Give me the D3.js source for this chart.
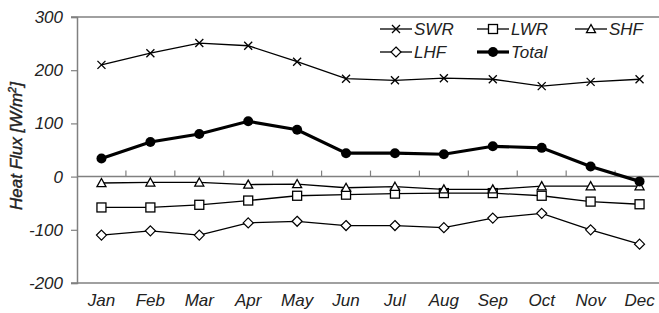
<!DOCTYPE html>
<html>
<head>
<meta charset="utf-8">
<script src="https://cdn.jsdelivr.net/npm/d3@7"></script>
<style>
  body { margin: 0; background: #fff; }
  svg { display: block; font-family: "Liberation Sans", Arial, sans-serif; }
</style>
</head>
<body>
<div id="chart"></div>
<script>
const months = ["Jan", "Feb", "Mar", "Apr", "May", "Jun", "Jul", "Aug", "Sep", "Oct", "Nov", "Dec"];
const swr = [210, 232, 251, 246, 216, 184, 181, 185, 183, 170, 178, 183];
const lwr = [-58, -58, -53, -45, -36, -34, -32, -31, -31, -36, -47, -52];
const shf = [-12, -11, -11, -15, -14, -21, -19, -24, -24, -18, -18, -18];
const lhf = [-110, -102, -110, -87, -84, -92, -92, -96, -78, -69, -100, -127];
const total = [34, 65, 80, 104, 88, 44, 44, 42, 57, 54, 19, -9];
const yTicks = [300, 200, 100, 0, -100, -200];

const series = [
    {name: "SWR", values: swr, marker: "x", width: 1.3},
    {name: "LWR", values: lwr, marker: "square", width: 1.3},
    {name: "SHF", values: shf, marker: "triangle", width: 1.3},
    {name: "LHF", values: lhf, marker: "diamond", width: 1.3},
    {name: "Total", values: total, marker: "circle", width: 3.2}
];

const width = 659, height = 313;
const margin = {top: 17, right: -5, bottom: 30, left: 77};

const svg = d3.select("#chart").append("svg")
    .attr("width", width)
    .attr("height", height);

const x = d3.scaleBand()
    .domain(months)
    .range([margin.left, width - margin.right])
    .paddingInner(0).paddingOuter(0);

const y = d3.scaleLinear()
    .domain([-200, 300])
    .range([height - margin.bottom, margin.top]);

const cx = m => x(m) + x.bandwidth() / 2;
const grey = "#808080";

// frame: top and bottom lines
svg.append("line")
    .attr("x1", margin.left - 6).attr("x2", width)
    .attr("y1", y(300)).attr("y2", y(300))
    .attr("stroke", grey).attr("stroke-width", 1.5);
svg.append("line")
    .attr("x1", margin.left - 6).attr("x2", width)
    .attr("y1", y(-200)).attr("y2", y(-200))
    .attr("stroke", grey).attr("stroke-width", 1.5);

// y axis (plain hyphen for negatives, as in the original)
const yAxis = d3.axisLeft(y).tickValues(yTicks).tickSize(6).tickPadding(8)
    .tickFormat(d => String(d));
const gy = svg.append("g")
    .attr("transform", `translate(${margin.left},0)`)
    .call(yAxis);
gy.select(".domain").attr("stroke", grey).attr("stroke-width", 1.5);
gy.selectAll(".tick line").attr("stroke", grey).attr("stroke-width", 1.2);
gy.selectAll(".tick text")
    .attr("font-size", 17)
    .attr("font-style", "italic")
    .attr("fill", "#222");

// zero line with category-boundary ticks pointing up
svg.append("line")
    .attr("x1", margin.left).attr("x2", width)
    .attr("y1", y(0)).attr("y2", y(0))
    .attr("stroke", grey).attr("stroke-width", 1.5);
svg.append("g").selectAll("line")
    .data(months.slice(1))
    .join("line")
    .attr("x1", d => x(d)).attr("x2", d => x(d))
    .attr("y1", y(0)).attr("y2", y(0) - 6)
    .attr("stroke", grey).attr("stroke-width", 1.2);

// month labels
svg.append("g").selectAll("text")
    .data(months)
    .join("text")
    .attr("x", d => cx(d))
    .attr("y", height - 7)
    .attr("text-anchor", "middle")
    .attr("font-size", 17)
    .attr("font-style", "italic")
    .attr("fill", "#222")
    .text(d => d);

// y axis title
const title = svg.append("text")
    .attr("transform", `translate(22,146) rotate(-90)`)
    .attr("text-anchor", "middle")
    .attr("font-size", 17)
    .attr("font-style", "italic")
    .attr("fill", "#222")
    .attr("stroke", "#222")
    .attr("stroke-width", 0.4);
title.append("tspan").text("Heat Flux [W/m");
title.append("tspan").attr("font-size", 11).attr("dy", -6).text("2");
title.append("tspan").attr("dy", 6).text("]");

function drawMarker(g, type, px, py) {
    if (type === "x") {
        const s = 4;
        g.append("path")
            .attr("d", `M${px - s},${py - s}L${px + s},${py + s}M${px - s},${py + s}L${px + s},${py - s}`)
            .attr("stroke", "#000").attr("stroke-width", 1.3).attr("fill", "none");
    } else if (type === "square") {
        const s = 4.5;
        g.append("rect")
            .attr("x", px - s).attr("y", py - s).attr("width", 2 * s).attr("height", 2 * s)
            .attr("fill", "#fff").attr("stroke", "#000").attr("stroke-width", 1.3);
    } else if (type === "triangle") {
        const s = 4.5;
        g.append("path")
            .attr("d", `M${px},${py - s}L${px + s},${py + s * 0.8}L${px - s},${py + s * 0.8}Z`)
            .attr("fill", "#fff").attr("stroke", "#000").attr("stroke-width", 1.3);
    } else if (type === "diamond") {
        const s = 5;
        g.append("path")
            .attr("d", `M${px},${py - s}L${px + s},${py}L${px},${py + s}L${px - s},${py}Z`)
            .attr("fill", "#fff").attr("stroke", "#000").attr("stroke-width", 1.2);
    } else if (type === "circle") {
        g.append("circle")
            .attr("cx", px).attr("cy", py).attr("r", 5)
            .attr("fill", "#000");
    }
}

const line = d3.line()
    .x((d, i) => cx(months[i]))
    .y(d => y(d));

series.forEach(s => {
    const g = svg.append("g");
    g.append("path")
        .datum(s.values)
        .attr("d", line)
        .attr("fill", "none")
        .attr("stroke", "#000")
        .attr("stroke-width", s.width);
    s.values.forEach((v, i) => drawMarker(g, s.marker, cx(months[i]), y(v)));
});

// legend
const legendPos = [
    {lx: 380, ly: 29}, {lx: 477, ly: 29}, {lx: 575, ly: 29},
    {lx: 380, ly: 52}, {lx: 477, ly: 52}
];
series.forEach((s, i) => {
    const {lx, ly} = legendPos[i];
    const g = svg.append("g");
    g.append("line")
        .attr("x1", lx).attr("x2", lx + 32)
        .attr("y1", ly).attr("y2", ly)
        .attr("stroke", "#000").attr("stroke-width", s.width);
    drawMarker(g, s.marker, lx + 16, ly);
    g.append("text")
        .attr("x", lx + 34).attr("y", ly + 6)
        .attr("font-size", 17)
        .attr("font-style", "italic")
        .attr("fill", "#222")
        .text(s.name);
});
</script>
</body>
</html>
